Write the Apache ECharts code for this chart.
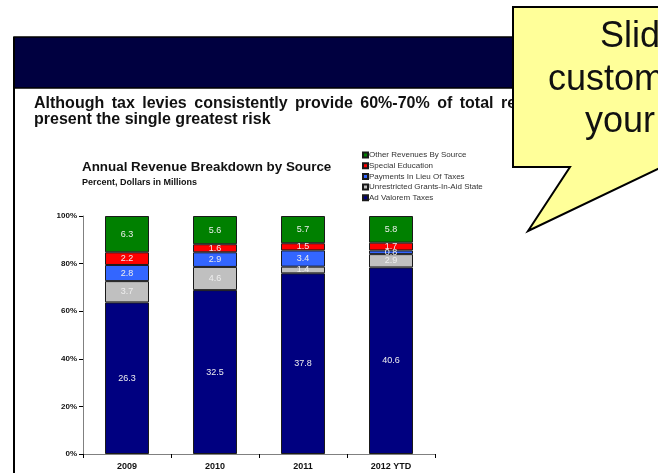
<!DOCTYPE html>
<html>
<head>
<meta charset="utf-8">
<script src="https://cdn.jsdelivr.net/npm/echarts@6/dist/echarts.min.js"></script>
<style>
html,body{margin:0;padding:0;background:#fff;}
#c{width:658px;height:473px;}
</style>
</head>
<body>
<div id="c"></div>
<script>
const categories = ['2009', '2010', '2011', '2012 YTD'];
const seriesNames = ['Ad Valorem Taxes', 'Unrestricted Grants-In-Aid State', 'Payments In Lieu Of Taxes', 'Special Education', 'Other Revenues By Source'];
const adValorem = [26.3, 32.5, 37.8, 40.6];
const grantsInAid = [3.7, 4.6, 1.4, 2.9];
const paymentsInLieu = [2.8, 2.9, 3.4, 0.8];
const specialEducation = [2.2, 1.6, 1.5, 1.7];
const otherRevenues = [6.3, 5.6, 5.7, 5.8];
const yTickLabels = ['0%', '20%', '40%', '60%', '80%', '100%'];
const headingLines = ['Although tax levies consistently provide 60%-70% of total revenues, they', 'present the single greatest risk'];
const calloutLines = ['Slide', 'customized for', 'your needs'];

const rawSeries = [adValorem, grantsInAid, paymentsInLieu, specialEducation, otherRevenues];
const colors = ['#000080', '#C0C0C0', '#3366FF', '#FF0000', '#008000'];
const totals = categories.map((c, i) => rawSeries.reduce((s, arr) => s + arr[i], 0));

const FONT = 'Liberation Sans, Arial, sans-serif';
const HEAD_FONT = 'bold 16px ' + FONT;

// justified first heading line (slightly widened word gaps, as in the slide)
const mctx = document.createElement('canvas').getContext('2d');
mctx.font = HEAD_FONT;
const headWords = headingLines[0].split(' ');
const firstWidths = headWords.slice(0, 8).reduce((s, w) => s + mctx.measureText(w).width, 0);
const wordGap = (501 - 34 - firstWidths) / 8;
const headGraphics = [];
let hx = 34;
headWords.forEach(w => {
  headGraphics.push({ type: 'text', z: 1, x: hx, y: 96, style: { text: w, font: HEAD_FONT, fill: '#111' } });
  hx += mctx.measureText(w).width + wordGap;
});

const series = rawSeries.map((arr, k) => ({
  name: seriesNames[k],
  type: 'bar',
  stack: 'total',
  barWidth: '50%',
  data: arr.map((v, i) => v / totals[i] * 100),
  itemStyle: { color: colors[k], borderColor: '#1a1a1a', borderWidth: 1 },
  label: {
    show: true,
    position: 'inside',
    color: '#EEEEEE',
    fontFamily: FONT,
    fontSize: 9,
    formatter: p => arr[p.dataIndex].toFixed(1)
  },
  emphasis: { disabled: true }
}));

const chart = echarts.init(document.getElementById('c'), null, { renderer: 'canvas' });
chart.setOption({
  animation: false,
  backgroundColor: '#ffffff',
  grid: { left: 83, right: 223, top: 216, bottom: 19, containLabel: false },
  legend: {
    orient: 'vertical',
    left: 362,
    top: 150,
    padding: 0,
    itemWidth: 5,
    itemHeight: 5,
    itemGap: 0.7,
    icon: 'rect',
    data: seriesNames.slice().reverse(),
    textStyle: { fontFamily: FONT, fontSize: 8, color: '#333', lineHeight: 10, padding: [0, 0, 0, -4] },
    selectedMode: false
  },
  xAxis: {
    type: 'category',
    data: categories,
    axisLine: { lineStyle: { color: '#808080', width: 1 } },
    axisTick: { show: true, length: 4, lineStyle: { color: '#000' } },
    axisLabel: { fontFamily: FONT, fontSize: 9, fontWeight: 'bold', color: '#111', margin: 8 }
  },
  yAxis: {
    type: 'value',
    min: 0,
    max: 100,
    interval: 20,
    splitLine: { show: false },
    axisLine: { show: true, lineStyle: { color: '#808080', width: 1 } },
    axisTick: { show: true, length: 4, lineStyle: { color: '#000' } },
    axisLabel: {
      fontFamily: FONT, fontSize: 8, fontWeight: 'bold', color: '#111', margin: 6,
      formatter: v => yTickLabels[Math.round(v / 20)]
    }
  },
  series: series,
  graphic: [
    { type: 'rect', z: 0, shape: { x: 14, y: 37, width: 720, height: 51 }, style: { fill: '#000040', stroke: '#000', lineWidth: 1.5 } },
    { type: 'line', z: 0, shape: { x1: 14, y1: 37, x2: 14, y2: 480 }, style: { stroke: '#000', lineWidth: 2 } },
    ...headGraphics,
    { type: 'text', z: 1, x: 34, y: 112, style: { text: headingLines[1], font: HEAD_FONT, fill: '#111' } },
    { type: 'text', z: 1, x: 82, y: 161, style: { text: 'Annual Revenue Breakdown by Source', font: 'bold 13.4px ' + FONT, fill: '#111' } },
    { type: 'text', z: 1, x: 82, y: 178, style: { text: 'Percent, Dollars in Millions', font: 'bold 9px ' + FONT, fill: '#111' } },
    { type: 'polygon', z: 100, shape: { points: [[513, 7], [730, 7], [730, 167], [662, 167], [528, 231], [570, 167], [513, 167]] }, style: { fill: '#FFFF99', stroke: '#000', lineWidth: 2 } },
    { type: 'text', z: 101, x: 600, y: 19, style: { text: calloutLines[0], font: '36px ' + FONT, fill: '#111' } },
    { type: 'text', z: 101, x: 548, y: 62, style: { text: calloutLines[1], font: '36px ' + FONT, fill: '#111' } },
    { type: 'text', z: 101, x: 585, y: 104, style: { text: calloutLines[2], font: '36px ' + FONT, fill: '#111' } }
  ]
});
</script>
</body>
</html>
